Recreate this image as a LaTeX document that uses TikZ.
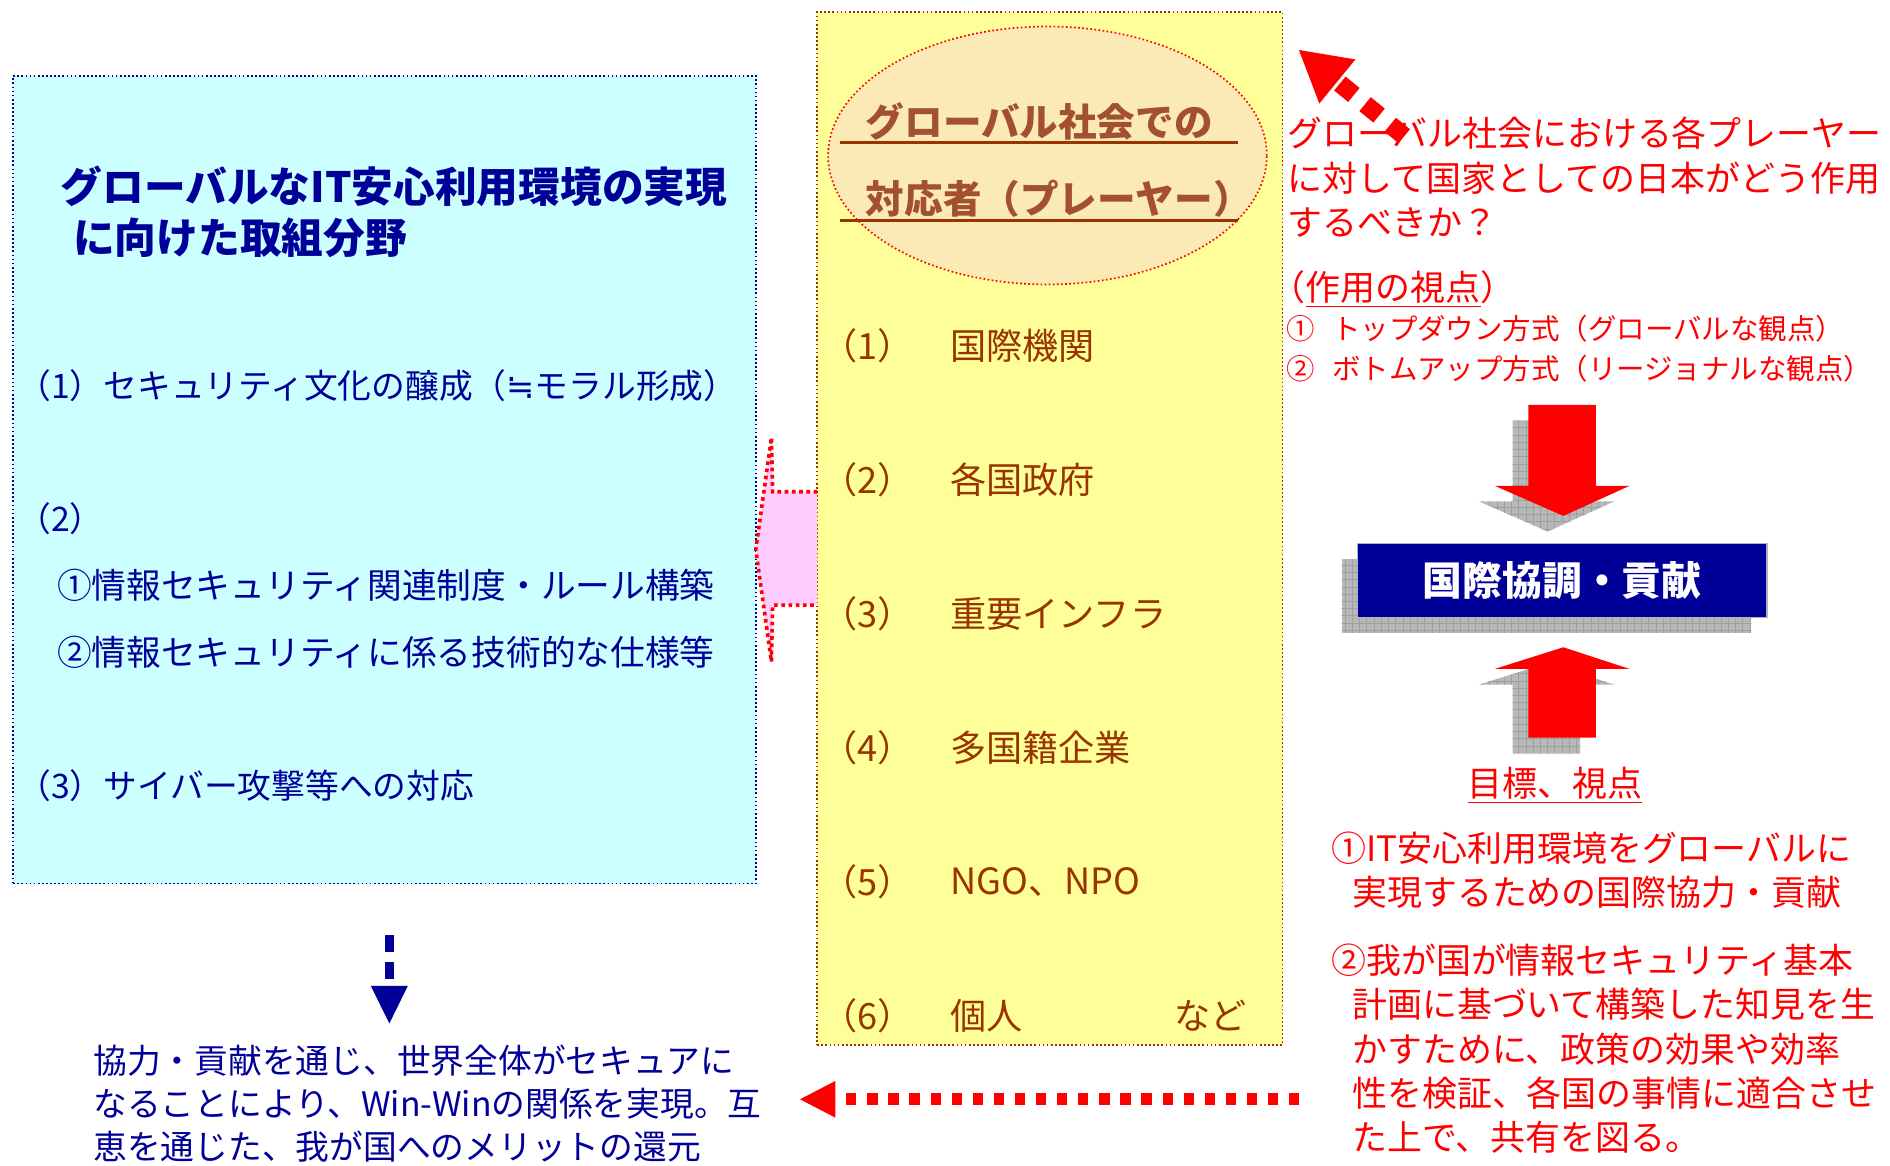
\documentclass[tikz,border=0pt]{standalone}
\usepackage{fontspec}
\setmainfont{Noto Sans CJK JP}
\newfontfamily\symfont{DejaVu Sans}
\usetikzlibrary{arrows.meta,patterns,shapes.geometric}

\definecolor{cyanfill}{HTML}{CCFFFF}
\definecolor{navy}{HTML}{000099}
\definecolor{paleyellow}{HTML}{FFFF99}
\definecolor{rust}{HTML}{993300}
\definecolor{rustink}{HTML}{A3502F}
\definecolor{pinkfill}{HTML}{FFCCFF}
\definecolor{peach}{HTML}{FBEAB5}
\definecolor{shadowgray}{HTML}{B8B8B8}

\tikzset{
  panel/.style={rectangle, densely dotted, line width=0.7pt, inner sep=0pt},
  txt/.style={anchor=west, inner sep=0pt, align=left},
  areatitle/.style={txt, text=navy, font=\bfseries\fontsize{17.3}{21}\selectfont},
  areatext/.style={txt, text=navy, font=\fontsize{14}{17}\selectfont},
  areaitem/.style={txt, text=navy, font=\fontsize{14.4}{17}\selectfont},
  playertitle/.style={txt, text=rustink, font=\bfseries\fontsize{16}{20}\selectfont},
  playertext/.style={txt, text=rust, font=\fontsize{15}{18}\selectfont},
  redtext/.style={txt, text=red, font=\fontsize{14.5}{18.4}\selectfont},
  redsmall/.style={txt, text=red, font=\fontsize{11.8}{14}\selectfont},
  outtext/.style={txt, text=navy, font=\fontsize{14}{17.75}\selectfont},
  shadebox/.style={fill=shadowgray, postaction={pattern=grid, pattern color=gray!75}},
  bigarrow/.style={fill=red},
}

\begin{document}
\begin{tikzpicture}[x=0.5pt,y=-0.5pt]
\useasboundingbox (0,0) rectangle (1568,967);

% panels
\node[panel, draw=navy, fill=cyanfill, minimum width=308pt, minimum height=335pt] (areas) at (319,398) {};
\node[panel, draw=rust, fill=paleyellow, minimum width=193pt, minimum height=428.5pt] (players) at (871,438.5) {};
\node[ellipse, draw=red, densely dotted, line width=0.7pt, fill=peach, minimum width=182pt, minimum height=107pt, inner sep=0pt] (ptitle) at (869,129) {};

% block arrow between the panels
\filldraw[fill=pinkfill, draw=red, line width=1.5pt, dash pattern=on 1.5pt off 1.5pt]
  (678,408) -- (641,408) -- (640,363) -- (627,456) -- (640,549) -- (641,502) -- (678,502);

% left panel text
\node[areatitle] (title) at (50,176) {グローバルなIT安心利用環境の実現\\\hspace*{0.3em}に向けた取組分野};
\node[areatext] (area1) at (14,320) {（1）セキュリティ文化の醸成（{\symfont ≒}モラル形成）};
\node[areatext] (area2) at (14,430) {（2）};
\node[areaitem] (area2a) at (47,486) {①情報セキュリティ関連制度・ルール構築};
\node[areaitem] (area2b) at (47,541) {②情報セキュリティに係る技術的な仕様等};
\node[areatext] (area3) at (14,652) {（3）サイバー攻撃等への対応};

% players
\node[playertitle] (pt1) at (718,101) {グローバル社会での};
\node[playertitle] (pt2) at (718,165) {対応者（プレーヤー）};
\draw[rust, line width=1.1pt] (697,118) -- (1027,118);
\draw[rust, line width=1.1pt] (697,183) -- (1027,183);
\foreach \n/\who [count=\i] in {1/国際機関,2/各国政府,3/重要インフラ,4/多国籍企業,5/NGO、NPO,6/個人}{
  \node[playertext] (num\i) at (681,{287+111.2*(\i-1)}) {（\n）};
  \node[playertext] (who\i) at (788,{287+111.2*(\i-1)}) {\who};
}
\node[playertext] (etc) at (974,843) {など};

% right column
\node[redtext] (quest) at (1068,147) {グローバル社会における各プレーヤー\\に対して国家としての日本がどう作用\\するべきか？};
\node[redtext] (view) at (1054,240) {（\underline{作用の視点}）};
\node[redsmall] (topdown) at (1067,273) {①\hspace{0.6em}トップダウン方式（グローバルな観点）};
\node[redsmall] (bottomup) at (1067,306) {②\hspace{0.6em}ボトムアップ方式（リージョナルな観点）};

% shadows
\begin{scope}[shift={(-13,13)}]
  \fill[shadebox] (1268,336) -- (1324,336) -- (1324,403) -- (1352,403) -- (1297,428) -- (1240,403) -- (1268,403) -- cycle;
  \fill[shadebox] (1268,612) -- (1324,612) -- (1324,555) -- (1352,555) -- (1297,537) -- (1240,555) -- (1268,555) -- cycle;
  \fill[shadebox] (1126,451) rectangle (1466,512);
\end{scope}
\fill[bigarrow] (1268,336) -- (1324,336) -- (1324,403) -- (1352,403) -- (1297,428) -- (1240,403) -- (1268,403) -- cycle;
\fill[bigarrow] (1268,612) -- (1324,612) -- (1324,555) -- (1352,555) -- (1297,537) -- (1240,555) -- (1268,555) -- cycle;
\node[fill=navy, draw=gray!60, line width=0.5pt, minimum width=170pt, minimum height=30.5pt, text=white,
  font=\bfseries\fontsize{16.5}{20}\selectfont] (coop) at (1296,481.5) {国際協調・貢献};

\node[redtext, anchor=center] (goal) at (1290,652) {\underline{目標、視点}};
\node[redtext] (goal1) at (1104,722) {①IT安心利用環境をグローバルに\\\hspace*{0.6em}実現するための国際協力・貢献};
\node[redtext] (goal2) at (1104,870) {②我が国が情報セキュリティ基本\\\hspace*{0.6em}計画に基づいて構築した知見を生\\\hspace*{0.6em}かすために、政策の効果や効率\\\hspace*{0.6em}性を検証、各国の事情に適合させ\\\hspace*{0.6em}た上で、共有を図る。};

% bottom
\node[outtext] (outcome) at (77,915.5) {協力・貢献を通じ、世界全体がセキュアに\\なることにより、Win-Winの関係を実現。互\\恵を通じた、我が国へのメリットの還元};

% dashed arrows
\coordinate (qstart) at (1165,113);
\coordinate (qtip) at (1077,41);
\draw[red, line width=7.5pt, dash pattern=on 7.5pt off 6pt, -{Triangle[length=21pt,width=22pt]}] (qstart) -- (qtip);
\coordinate (dstart) at (323,776);
\coordinate (dtip) at (323,850);
\draw[navy, line width=4pt, dash pattern=on 7pt off 4pt, -{Triangle[length=16pt,width=14pt]}] (dstart) -- (dtip);
\coordinate (rstart) at (1078,912);
\coordinate (rtip) at (663,912);
\draw[red, line width=5pt, dash pattern=on 4.25pt off 4.5pt, -{Triangle[length=15pt,width=14pt]}] (rstart) -- (rtip);
\end{tikzpicture}
\end{document}
